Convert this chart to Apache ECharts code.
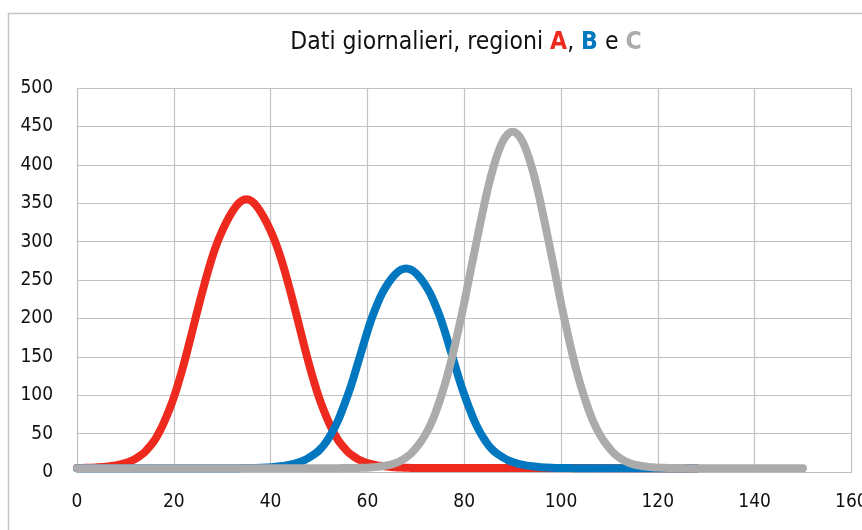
<!DOCTYPE html>
<html>
<head>
<meta charset="utf-8">
<script src="https://cdn.jsdelivr.net/npm/echarts@6/dist/echarts.min.js"></script>
<style>
html,body{margin:0;padding:0;background:#fff;}
#chart{width:862px;height:530px;}
</style>
</head>
<body>
<div id="chart"></div>
<script>
// Region A (red)
var daysA = [0,1,2,3,4,5,6,7,8,9,
             10,11,12,13,14,15,16,17,18,19,
             20,21,22,23,24,25,26,27,28,29,
             30,31,32,33,34,35,36,37,38,39,
             40,41,42,43,44,45,46,47,48,49,
             50,51,52,53,54,55,56,57,58,59,
             60,61,62,63,64,65,66,67,68,69,
             70,128];
var valuesA = [5.2,5.3,5.5,5.7,6,6.4,7,7.8,8.7,10,
               11.5,14,17,21,26,33,41,52,65,80,
               97,117,139,163,188,213,237,260,281,299,
               314,327,338,347,353,355,353,347,338,327,
               314,299,281,260,237,213,188,163,139,117,
               97,80,65,52,41,33,26,21,17,14,
               11.5,10,8.7,7.8,7,6.4,6,5.7,5.5,5.3,
               5.2,5];
// Region B (blue)
var daysB = [0,
             30,31,32,33,34,35,36,37,38,39,
             40,41,42,43,44,45,46,47,48,49,
             50,51,52,53,54,55,56,57,58,59,
             60,61,62,63,64,65,66,67,68,69,
             70,71,72,73,74,75,76,77,78,79,
             80,81,82,83,84,85,86,87,88,89,
             90,91,92,93,94,95,96,97,98,99,
             100,101,102,103,104,105,106,
             128];
var valuesB = [5,
               5,5,5,5,5.05,5.1,5.2,5.3,5.5,5.8,
               6.2,6.7,7.4,8.3,9.5,11,13,15.5,19,23,
               28,35,44,55,68,84,101,120,141,162,
               183,202,218,232,243,252,259,263.5,265,263.5,
               259,252,243,232,218,202,183,162,141,120,
               101,84,68,55,44,35,28,23,19,15.5,
               13,11,9.5,8.3,7.4,6.7,6.2,5.8,5.5,5.3,
               5.2,5.1,5.05,5,5,5,5,
               5];
// Region C (grey)
var daysC = [0,
             54,55,56,57,58,59,60,61,62,63,
             64,65,66,67,68,69,70,71,72,73,
             74,75,76,77,78,79,80,81,82,83,
             84,85,86,87,88,89,90,91,92,93,
             94,95,96,97,98,99,100,101,102,103,
             104,105,106,107,108,109,110,111,112,113,
             114,115,116,117,118,119,120,121,122,123,
             124,125,126,
             150];
var valuesC = [5,
               5,5.1,5.1,5.2,5.3,5.5,5.7,6.1,6.7,7.5,
               8.6,10,12,15,19,24,31,39,49,61,
               76,94,114,137,163,191,220,252,283,314,
               344,372,396,416,431,440,443,440,431,416,
               396,372,344,314,283,252,220,191,163,137,
               114,94,76,61,49,39,31,24,19,15,
               12,10,8.6,7.5,6.7,6.1,5.7,5.5,5.3,5.2,
               5.1,5.1,5,
               5];

var titleMain = 'Dati giornalieri, regioni ';
var regionNames = ['A','B','C'];
var colors = ['#EE2A1F','#0077BE','#ABABAB'];

function pairs(xs, ys){ return xs.map(function(x,i){ return [x, ys[i]]; }); }

var FONT = "'Liberation Sans Narrow','DejaVu Sans Condensed','Roboto Condensed','Liberation Sans',sans-serif";
var TS = 24.5;

var chart = echarts.init(document.getElementById('chart'), null, {renderer:'canvas'});
chart.setOption({
  animation:false,
  backgroundColor:'#fff',
  graphic:[{
    type:'rect', silent:true, z:-10,
    shape:{x:8.5,y:13.5,width:900,height:600},
    style:{fill:'#fff',stroke:'#c4c4c4',lineWidth:1.5}
  }],
  title:{
    left:461, top:25, textAlign:'center',
    text:'{n|'+titleMain+'}{a|'+regionNames[0]+'}{n|, }{b|'+regionNames[1]+'}{n| e }{c|'+regionNames[2]+'}',
    textStyle:{
      fontWeight:'normal',fontFamily:FONT,fontSize:TS,
      rich:{
        n:{fontFamily:FONT,fontSize:TS,fontWeight:'normal',color:'#111'},
        a:{fontFamily:FONT,fontSize:TS,fontWeight:'bold',color:colors[0]},
        b:{fontFamily:FONT,fontSize:TS,fontWeight:'bold',color:colors[1]},
        c:{fontFamily:FONT,fontSize:TS,fontWeight:'bold',color:colors[2]}
      }
    }
  },
  grid:{left:77,right:10.6,top:88,bottom:58,containLabel:false,outerBoundsMode:'none'},
  xAxis:{
    type:'value',min:0,max:160,interval:20,
    axisLine:{show:true,onZero:false,lineStyle:{color:'#bdbdbd',width:1}},
    axisTick:{show:false},
    axisLabel:{margin:21,fontFamily:FONT,fontSize:19,color:'#111'},
    splitLine:{show:true,lineStyle:{color:'#c2c2c2',width:1.2}}
  },
  yAxis:{
    type:'value',min:0,max:500,interval:50,
    axisLine:{show:true,lineStyle:{color:'#bdbdbd',width:1}},
    axisTick:{show:false},
    axisLabel:{margin:24,fontFamily:FONT,fontSize:19,color:'#111',padding:[4,0,0,0]},
    splitLine:{show:true,lineStyle:{color:'#c2c2c2',width:1.2}}
  },
  series:[
    {type:'line',name:'A',data:pairs(daysA,valuesA),smooth:0.4,showSymbol:false,lineStyle:{color:colors[0],width:8,cap:'round',join:'round'},z:2},
    {type:'line',name:'B',data:pairs(daysB,valuesB),smooth:0.4,showSymbol:false,lineStyle:{color:colors[1],width:8,cap:'round',join:'round'},z:3},
    {type:'line',name:'C',data:pairs(daysC,valuesC),smooth:0.4,showSymbol:false,lineStyle:{color:colors[2],width:8,cap:'round',join:'round'},z:4}
  ]
});
</script>
</body>
</html>
